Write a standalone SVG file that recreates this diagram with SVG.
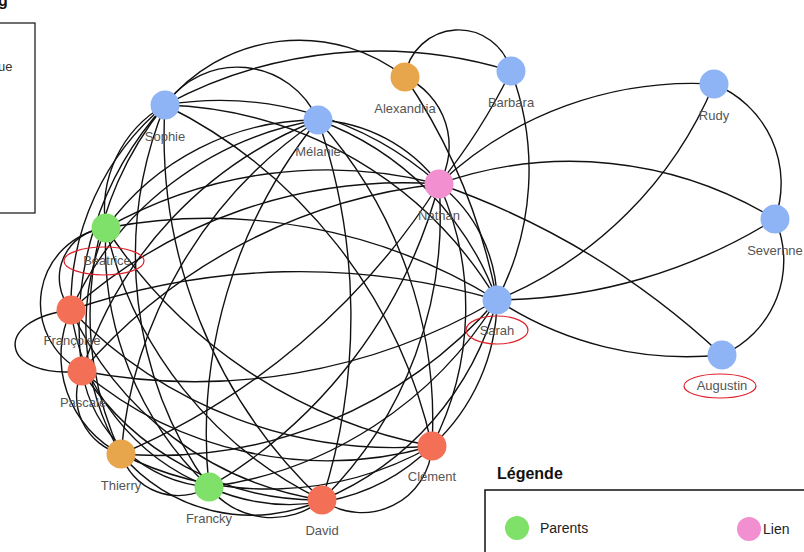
<svg xmlns="http://www.w3.org/2000/svg" width="804" height="552" viewBox="0 0 804 552">
<style>
.e{fill:none;stroke:#111;stroke-width:1.4}
.lbl{font-family:"Liberation Sans",Arial,sans-serif;font-size:13px;fill:#555;text-anchor:middle}
.blue{fill:#8fb4f6}.green{fill:#7fe06a}.orange{fill:#e8a64c}.red{fill:#f36f55}.pink{fill:#f28fd0}
.ring{fill:none;stroke:#e0202a;stroke-width:1.2}
.lg{font-family:"Liberation Sans",Arial,sans-serif;font-size:14px;fill:#222}
</style>
<rect width="804" height="552" fill="#fff"/>
<text x="-2" y="6" font-family="Liberation Sans,Arial,sans-serif" font-size="16" font-weight="bold" fill="#111">g</text>
<rect x="-3" y="23" width="38" height="190" fill="none" stroke="#222" stroke-width="1.3"/>
<text x="-2" y="71" font-family="Liberation Sans,Arial,sans-serif" font-size="13" fill="#333">ue</text>
<g id="connectors">
<path class="e" d="M165 105 A88 88 0 0 1 318 120"/>
<path class="e" d="M106 228 A120 120 0 0 1 165 105"/>
<path class="e" d="M71 310 A260 260 0 0 1 165 105"/>
<path class="e" d="M82 371 A330 330 0 0 1 165 105"/>
<path class="e" d="M121 454 A330 330 0 0 1 165 105"/>
<path class="e" d="M209 487 A400 400 0 0 1 165 105"/>
<path class="e" d="M322 500 A500 500 0 0 1 165 105"/>
<path class="e" d="M165 105 A500 500 0 0 1 432 446"/>
<path class="e" d="M165 105 A330 330 0 0 1 439 184"/>
<path class="e" d="M165 105 A400 400 0 0 1 497 300"/>
<path class="e" d="M106 228 A260 260 0 0 1 318 120"/>
<path class="e" d="M71 310 A330 330 0 0 1 318 120"/>
<path class="e" d="M82 371 A400 400 0 0 1 318 120"/>
<path class="e" d="M121 454 A450 450 0 0 1 318 120"/>
<path class="e" d="M209 487 A500 500 0 0 1 318 120"/>
<path class="e" d="M318 120 A600 600 0 0 1 322 500"/>
<path class="e" d="M318 120 A450 450 0 0 1 432 446"/>
<path class="e" d="M318 120 A160 160 0 0 1 439 184"/>
<path class="e" d="M318 120 A300 300 0 0 1 497 300"/>
<path class="e" d="M71 310 A50 50 0 0 1 106 228"/>
<path class="e" d="M82 371 A76 76 0 0 1 106 228"/>
<path class="e" d="M121 454 A250 250 0 0 1 106 228"/>
<path class="e" d="M209 487 A330 330 0 0 1 106 228"/>
<path class="e" d="M322 500 A400 400 0 0 1 106 228"/>
<path class="e" d="M432 446 A500 500 0 0 1 106 228"/>
<path class="e" d="M106 228 A450 450 0 0 1 439 184"/>
<path class="e" d="M106 228 A550 550 0 0 1 497 300"/>
<path class="e" d="M82 371 C0 380 -10 320 71 310"/>
<path class="e" d="M121 454 A110 110 0 0 1 71 310"/>
<path class="e" d="M209 487 A220 220 0 0 1 71 310"/>
<path class="e" d="M322 500 A330 330 0 0 1 71 310"/>
<path class="e" d="M432 446 A450 450 0 0 1 71 310"/>
<path class="e" d="M71 310 A500 500 0 0 1 439 184"/>
<path class="e" d="M71 310 A700 700 0 0 1 497 300"/>
<path class="e" d="M121 454 A60 60 0 0 1 82 371"/>
<path class="e" d="M209 487 A140 140 0 0 1 82 371"/>
<path class="e" d="M322 500 A280 280 0 0 1 82 371"/>
<path class="e" d="M432 446 A380 380 0 0 1 82 371"/>
<path class="e" d="M82 371 A550 550 0 0 1 439 184"/>
<path class="e" d="M497 300 A600 600 0 0 1 82 371"/>
<path class="e" d="M209 487 A60 60 0 0 1 121 454"/>
<path class="e" d="M322 500 A170 170 0 0 1 121 454"/>
<path class="e" d="M432 446 A330 330 0 0 1 121 454"/>
<path class="e" d="M439 184 A700 700 0 0 1 121 454"/>
<path class="e" d="M497 300 A450 450 0 0 1 121 454"/>
<path class="e" d="M322 500 A80 80 0 0 1 209 487"/>
<path class="e" d="M432 446 A200 200 0 0 1 209 487"/>
<path class="e" d="M439 184 A500 500 0 0 1 209 487"/>
<path class="e" d="M497 300 A400 400 0 0 1 209 487"/>
<path class="e" d="M432 446 A70 70 0 0 1 322 500"/>
<path class="e" d="M439 184 A400 400 0 0 1 322 500"/>
<path class="e" d="M497 300 A300 300 0 0 1 322 500"/>
<path class="e" d="M439 184 A300 300 0 0 1 432 446"/>
<path class="e" d="M497 300 A200 200 0 0 1 432 446"/>
<path class="e" d="M439 184 A150 150 0 0 1 497 300"/>
<path class="e" d="M165 105 A171 171 0 0 1 405 77"/>
<path class="e" d="M165 105 A450 450 0 0 1 511 71"/>
<path class="e" d="M405 77 A54 54 0 0 1 511 71"/>
<path class="e" d="M405 77 A76 76 0 0 1 439 184"/>
<path class="e" d="M405 77 A600 600 0 0 1 497 300"/>
<path class="e" d="M511 71 A600 600 0 0 1 439 184"/>
<path class="e" d="M511 71 A280 280 0 0 1 497 300"/>
<path class="e" d="M439 184 A370 370 0 0 1 714 84"/>
<path class="e" d="M714 84 A400 400 0 0 1 497 300"/>
<path class="e" d="M714 84 A107 107 0 0 1 775 219"/>
<path class="e" d="M439 184 A392 392 0 0 1 775 219"/>
<path class="e" d="M775 219 A532 532 0 0 1 497 300"/>
<path class="e" d="M439 184 A800 800 0 0 1 722 355"/>
<path class="e" d="M722 355 A346 346 0 0 1 497 300"/>
<path class="e" d="M775 219 A103 103 0 0 1 722 355"/>
</g>
<ellipse class="ring" cx="104" cy="261" rx="40" ry="14"/>
<ellipse class="ring" cx="497" cy="330" rx="31" ry="14"/>
<ellipse class="ring" cx="720" cy="386" rx="36" ry="12"/>
<g id="sophie"><circle class="blue" cx="165" cy="105" r="14.5"/><text class="lbl" x="165" y="141">Sophie</text></g>
<g id="melanie"><circle class="blue" cx="318" cy="120" r="14.5"/><text class="lbl" x="318" y="156">Mélanie</text></g>
<g id="alexandria"><circle class="orange" cx="405" cy="77" r="14.5"/><text class="lbl" x="405" y="113">Alexandria</text></g>
<g id="barbara"><circle class="blue" cx="511" cy="71" r="14.5"/><text class="lbl" x="511" y="107">Barbara</text></g>
<g id="rudy"><circle class="blue" cx="714" cy="84" r="14.5"/><text class="lbl" x="714" y="120">Rudy</text></g>
<g id="nathan"><circle class="pink" cx="439" cy="184" r="14.5"/><text class="lbl" x="439" y="220">Nathan</text></g>
<g id="severnne"><circle class="blue" cx="775" cy="219" r="14.5"/><text class="lbl" x="775" y="255">Severnne</text></g>
<g id="beatrice"><circle class="green" cx="106" cy="228" r="14.5"/><text class="lbl" x="107" y="265">Beatrice</text></g>
<g id="francoise"><circle class="red" cx="71" cy="310" r="14.5"/><text class="lbl" x="72" y="345">Françoise</text></g>
<g id="sarah"><circle class="blue" cx="497" cy="300" r="14.5"/><text class="lbl" x="497" y="335">Sarah</text></g>
<g id="augustin"><circle class="blue" cx="722" cy="355" r="14.5"/><text class="lbl" x="722" y="390">Augustin</text></g>
<g id="pascale"><circle class="red" cx="82" cy="371" r="14.5"/><text class="lbl" x="83" y="407">Pascale</text></g>
<g id="thierry"><circle class="orange" cx="121" cy="454" r="14.5"/><text class="lbl" x="121" y="490">Thierry</text></g>
<g id="francky"><circle class="green" cx="209" cy="487" r="14.5"/><text class="lbl" x="209" y="523">Francky</text></g>
<g id="david"><circle class="red" cx="322" cy="500" r="14.5"/><text class="lbl" x="322" y="535">David</text></g>
<g id="clement"><circle class="red" cx="432" cy="446" r="14.5"/><text class="lbl" x="432" y="481">Clément</text></g>
<g id="legend">
<text x="497" y="479" font-family="Liberation Sans,Arial,sans-serif" font-size="16" font-weight="bold" fill="#111">Légende</text>
<rect x="485" y="490" width="330" height="80" fill="none" stroke="#111" stroke-width="1.5"/>
<circle class="green" cx="517" cy="528" r="12"/>
<text class="lg" x="540" y="533">Parents</text>
<circle class="pink" cx="749" cy="529" r="12"/>
<text class="lg" x="763" y="534">Lien</text>
</g>
</svg>
